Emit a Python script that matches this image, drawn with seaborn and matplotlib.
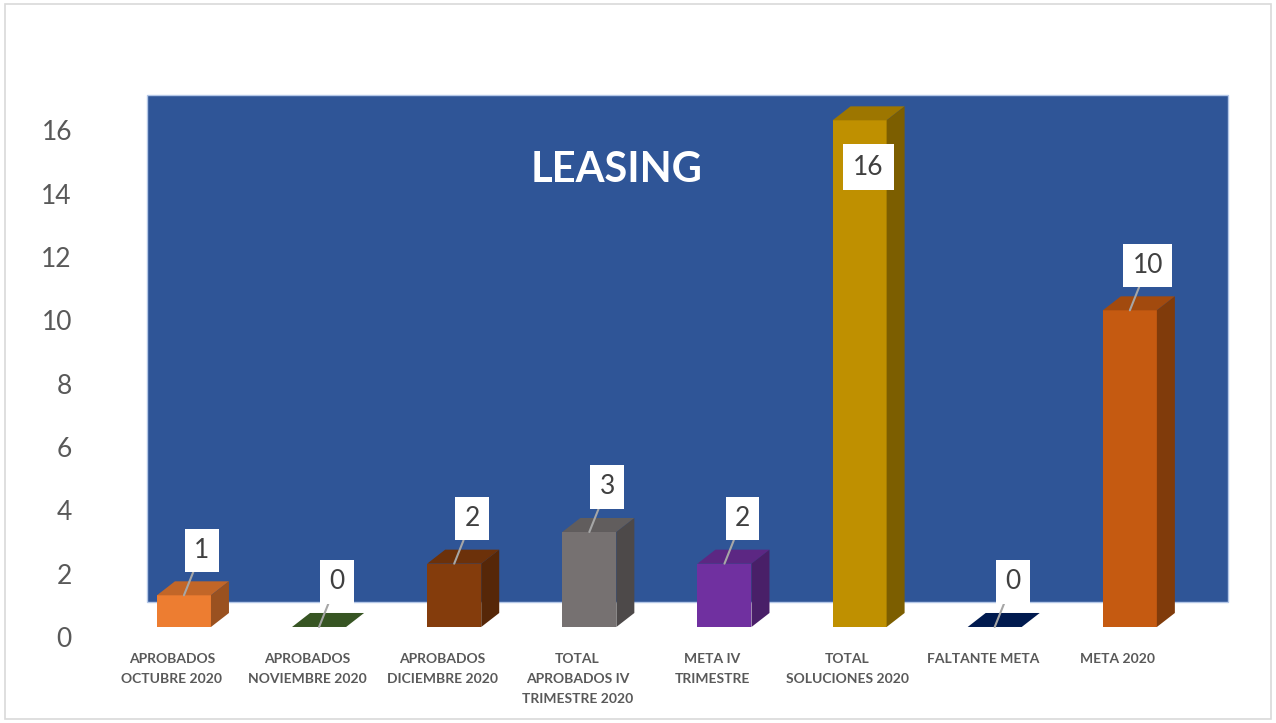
import matplotlib
matplotlib.use("Agg")
import matplotlib.pyplot as plt
import matplotlib.transforms as mtransforms
import pandas as pd
import seaborn as sns
from matplotlib.colors import to_rgb
from matplotlib.patches import Polygon, Rectangle

# data
CATEGORIES = ["APROBADOS\nOCTUBRE 2020", "APROBADOS\nNOVIEMBRE 2020",
              "APROBADOS\nDICIEMBRE 2020", "TOTAL\nAPROBADOS IV\nTRIMESTRE 2020",
              "META IV\nTRIMESTRE", "TOTAL\nSOLUCIONES 2020",
              "FALTANTE META", "META 2020"]
VALUES = [1, 0, 2, 3, 2, 16, 0, 10]
BAR_COLORS = ["#ED7D31", "#43682B", "#843C0C", "#767171",
              "#7030A0", "#BF9000", "#002060", "#C55A11"]
Y_TICKS = [0, 2, 4, 6, 8, 10, 12, 14, 16]
TITLE = "LEASING"

WALL_COLOR = "#2F5597"
TEXT_GRAY = "#595959"
LABEL_GRAY = "#404040"


def shade(color, f):
    return tuple(c * f for c in to_rgb(color))


def main() -> None:
    sns.set_theme(style="white")
    plt.rcParams['font.family'] = ['Lato', 'DejaVu Sans']

    fig = plt.figure(figsize=(12.76, 7.23), dpi=100)
    ax = fig.add_axes([0.0912, 0.1328, 0.8472, 0.7358])

    df = pd.DataFrame({"cat": CATEGORIES, "val": VALUES})
    sns.barplot(data=df, x="cat", y="val", hue="cat", palette=BAR_COLORS,
                width=0.4, saturation=1, legend=False, ax=ax, zorder=3,
                linewidth=0)
    ax.set_xlim(-0.5, len(CATEGORIES) - 0.5)
    ax.set_ylim(0, 16.8)
    for s in ax.spines.values():
        s.set_visible(False)
    ax.set_xlabel("")
    ax.set_ylabel("")

    # pixel scale of the data units, used for the fake 3D depth
    px_x = ax.bbox.width / len(CATEGORIES)
    px_y = ax.bbox.height / 16.8
    dx, dy = 18 / px_x, 14 / px_y

    # back wall, pushed back and up
    wx, wy = 31 / px_x, 25 / px_y
    wall = Rectangle((-0.5 + wx, wy), len(CATEGORIES), 16, fc=WALL_COLOR,
                     ec="#B4C7E7", lw=1, zorder=1, clip_on=False)
    ax.add_patch(wall)

    for container in ax.containers:
        for bar in container:
            x0, w, h = bar.get_x(), bar.get_width(), bar.get_height()
            col = bar.get_facecolor()
            top = Polygon([(x0, h), (x0 + w, h), (x0 + w + dx, h + dy), (x0 + dx, h + dy)],
                          closed=True, fc=shade(col, 0.82), ec="none", zorder=3, clip_on=False)
            ax.add_patch(top)
            if h > 0:
                side = Polygon([(x0 + w, 0), (x0 + w + dx, dy), (x0 + w + dx, h + dy), (x0 + w, h)],
                               closed=True, fc=shade(col, 0.65), ec="none", zorder=3, clip_on=False)
                ax.add_patch(side)

    # data labels in white boxes with leader lines
    for i, v in enumerate(VALUES):
        inside = v * px_y + 70 > ax.bbox.height
        if inside:
            ax.annotate(str(v), xy=(i, v), xytext=(9, -47), textcoords="offset pixels",
                        ha="center", va="center", fontsize=19, color=LABEL_GRAY, zorder=6,
                        bbox=dict(boxstyle="square,pad=0.4", fc="white", ec="none"))
        else:
            ax.annotate(str(v), xy=(i, v), xytext=(18, 45), textcoords="offset pixels",
                        ha="center", va="center", fontsize=19, color=LABEL_GRAY, zorder=6,
                        bbox=dict(boxstyle="square,pad=0.35", fc="white", ec="none"),
                        arrowprops=dict(arrowstyle="-", color="#A6A6A6", lw=1.5,
                                        shrinkA=0, shrinkB=0))

    ax.set_yticks(Y_TICKS)
    ax.set_yticklabels([str(t) for t in Y_TICKS])
    ax.tick_params(axis="y", length=0, pad=32, labelsize=19, labelcolor=TEXT_GRAY)
    ax.set_xticks(range(len(CATEGORIES)))
    ax.set_xticklabels(CATEGORIES, fontsize=10, fontweight="bold", color=TEXT_GRAY,
                       linespacing=1.8)
    ax.tick_params(axis="x", length=0, pad=19)

    # 3D floor puts the value axis and category labels slightly off the bars
    y_off = mtransforms.ScaledTranslation(0, -10 / 100, fig.dpi_scale_trans)
    for lab in ax.get_yticklabels():
        lab.set_transform(lab.get_transform() + y_off)
    x_off = mtransforms.ScaledTranslation(-12 / 100, 0, fig.dpi_scale_trans)
    for lab in ax.get_xticklabels():
        lab.set_transform(lab.get_transform() + x_off)

    ax.text(0.463, 0.859, TITLE, transform=ax.transAxes, ha="center", va="center",
            fontsize=30, fontweight="bold", color="white", zorder=5)

    fig.patches.append(Rectangle((0.004, 0.006), 0.992, 0.988, transform=fig.transFigure,
                                 fill=False, ec="#D9D9D9", lw=1.2))

    fig.savefig("out.png", dpi=100)


if __name__ == '__main__':
    main()
